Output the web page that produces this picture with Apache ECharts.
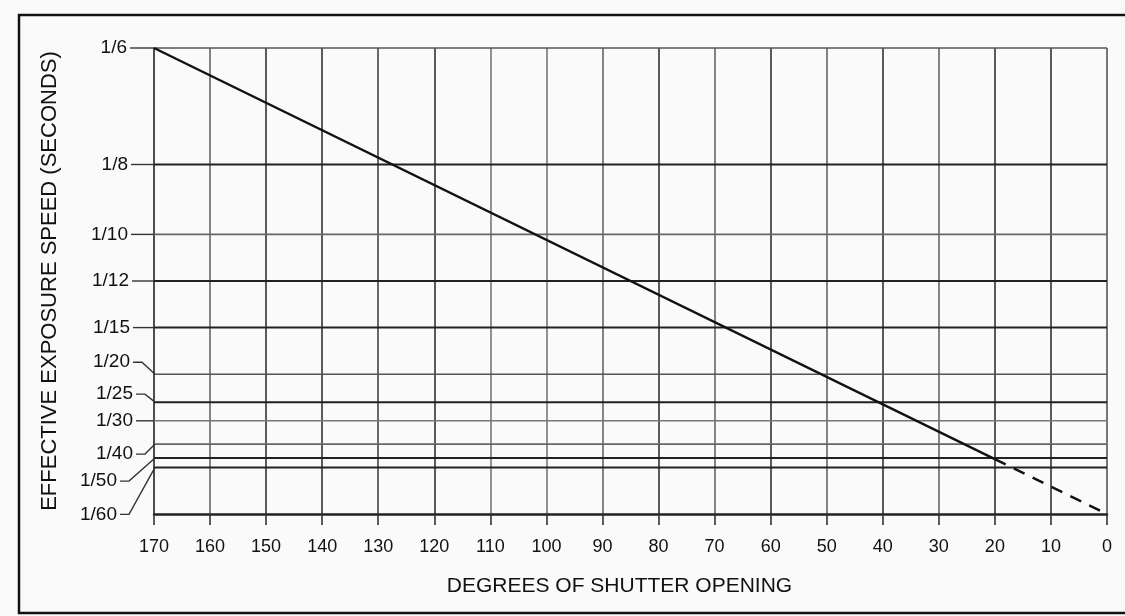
<!DOCTYPE html>
<html style="height: 100%;">
<head>
<meta charset="utf-8">
<title>Effective exposure speed</title>
<script src="https://cdn.jsdelivr.net/npm/echarts@6/dist/echarts.min.js"></script>
</head>
<body style="height: 100%; margin: 0; background: #fafafa;">
<div id="container" style="width: 1125px; height: 616px;"></div>
<script type="text/javascript">
// exposure speeds marked on the left (seconds)
var speedLabels = ['1/6', '1/8', '1/10', '1/12', '1/15', '1/20', '1/25', '1/30', '1/40', '1/50', '1/60'];
var speedSeconds = [1/6, 1/8, 1/10, 1/12, 1/15, 1/20, 1/25, 1/30, 1/40, 1/50, 1/60];

// the diagonal: solid part and dashed part
var solidDegrees = [170, 20];
var solidSeconds = [1/6, 1/51];
var dashDegrees = [20, 0];
var dashSeconds = [1/51, 0];

// label placement (px): shift from its line, gap to the plot edge
var labelDy = [0, 0, 0, 0, 0, -12, -8, 0, 10, 23, 47];
var labelGap = [27, 26, 26, 25, 24, 24, 21, 21, 21, 37, 37];
var lineTone = ['#555', '#222', '#666', '#222', '#222', '#555', '#222', '#777', '#666', '#222', '#222'];
var lineWidth = [1.5, 2, 1.6, 2, 2, 1.6, 2, 1.6, 1.6, 2, 2];

var FONT = '"Liberation Sans", Arial, sans-serif';

var dom = document.getElementById('container');
var myChart = echarts.init(dom, null, { renderer: 'canvas' });

var gridColors = ['#555', '#333', '#333', '#666', '#333', '#666', '#333', '#666', '#333',
                  '#666', '#777', '#777', '#333', '#444', '#333', '#333', '#666', '#222'];

function renderSpeed(params, api) {
    var t = api.value(1);
    var i = api.value(2);
    var left = api.coord([170, t]);
    var right = api.coord([0, t]);
    var y = left[1];
    var x0 = left[0];
    var ly = y + labelDy[i];
    var lx = x0 - labelGap[i];
    var children = [];
    children.push({
        type: 'line',
        shape: { x1: x0, y1: y, x2: right[0], y2: y },
        style: { stroke: lineTone[i], lineWidth: lineWidth[i] }
    });
    var pts;
    if (labelDy[i] === 0) {
        pts = [[lx + 3, ly], [x0, y]];
    } else {
        pts = [[lx + 3, ly], [lx + 12, ly], [x0 + 1, y]];
    }
    children.push({
        type: 'polyline',
        shape: { points: pts },
        style: { stroke: '#333', lineWidth: 1.4, fill: null }
    });
    children.push({
        type: 'text',
        style: {
            text: speedLabels[i], x: lx, y: ly,
            align: 'right', verticalAlign: 'middle',
            fontSize: 19, fontFamily: FONT, fill: '#111'
        }
    });
    return { type: 'group', children: children };
}

var option = {
    backgroundColor: '#fafafa',
    animation: false,
    grid: { left: 154, right: 18, top: 48, bottom: 102 },
    graphic: [{
        type: 'rect',
        shape: { x: 19, y: 15, width: 1200, height: 598 },
        style: { stroke: '#111', lineWidth: 2.5, fill: null }
    }],
    xAxis: {
        type: 'value',
        min: 0,
        max: 170,
        interval: 10,
        inverse: true,
        name: 'DEGREES OF SHUTTER OPENING',
        nameLocation: 'middle',
        nameGap: 62,
        nameTextStyle: { fontSize: 21, fontFamily: FONT, color: '#111', padding: [0, 22, 0, 0] },
        axisLine: { lineStyle: { color: '#222', width: 2.5 } },
        axisTick: { length: 11, lineStyle: { color: '#333', width: 1.6 } },
        axisLabel: { fontSize: 18, fontFamily: FONT, color: '#111', margin: 24 },
        splitLine: { show: true, lineStyle: { color: gridColors, width: 1.6 } }
    },
    yAxis: {
        type: 'value',
        min: 0,
        max: 1/6,
        name: 'EFFECTIVE EXPOSURE SPEED (SECONDS)',
        nameLocation: 'middle',
        nameGap: 93,
        nameRotate: 90,
        nameTextStyle: { fontSize: 22, fontFamily: FONT, color: '#111' },
        axisLine: { show: false },
        axisTick: { show: false },
        axisLabel: { show: false },
        splitLine: { show: false }
    },
    series: [
        {
            type: 'custom',
            renderItem: renderSpeed,
            clip: false,
            silent: true,
            data: speedSeconds.map(function (s, i) { return [0, s, i]; }),
            z: 1
        },
        {
            type: 'line',
            symbol: 'none',
            data: solidDegrees.map(function (d, i) { return [d, solidSeconds[i]]; }),
            lineStyle: { color: '#111', width: 2.4 },
            z: 3
        },
        {
            type: 'line',
            symbol: 'none',
            data: dashDegrees.map(function (d, i) { return [d, dashSeconds[i]]; }),
            lineStyle: { color: '#111', width: 2.4, type: [12, 9] },
            z: 3
        }
    ]
};

myChart.setOption(option);
</script>
</body>
</html>
